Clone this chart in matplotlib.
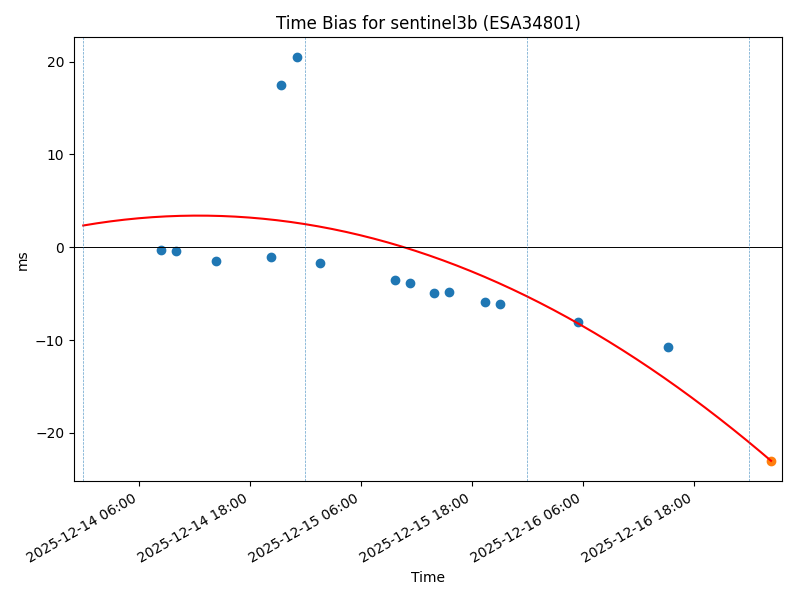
"""
Time bias plot for sentinel3b
"""

import datetime as dt

import numpy as np
import matplotlib
matplotlib.use('Agg')
import matplotlib.pyplot as plt
import matplotlib.dates as mdates

# pass times and bias values (ms)
times = ['2025-12-14 08:24', '2025-12-14 10:01', '2025-12-14 14:21',
         '2025-12-14 20:17', '2025-12-14 21:22', '2025-12-14 23:06',
         '2025-12-15 01:35', '2025-12-15 09:44', '2025-12-15 11:21',
         '2025-12-15 13:57', '2025-12-15 15:34', '2025-12-15 19:28',
         '2025-12-15 21:05', '2025-12-16 05:31', '2025-12-16 15:14']
bias = [-0.27, -0.38, -1.46, -1.02, 17.52, 20.46, -1.67, -3.54, -3.86,
        -4.94, -4.83, -5.91, -6.12, -8.06, -10.76]

# predicted point
pred_time = '2025-12-17 02:21'
pred_bias = -23.02

# quadratic fit (hours since fit start): c0 + c1*t + c2*t^2
fit_start = '2025-12-14 00:00'
fit_coeffs = [2.35, 0.1714, -0.006891]

day_lines = ['2025-12-14 00:00', '2025-12-15 00:00',
             '2025-12-16 00:00', '2025-12-17 00:00']

x_limits = ['2025-12-13 23:00', '2025-12-17 03:32']


def parse(s):
    return dt.datetime.strptime(s, '%Y-%m-%d %H:%M')


if __name__ == '__main__':
    t = [parse(s) for s in times]
    t0 = parse(fit_start)
    tp = parse(pred_time)

    fig, ax = plt.subplots(figsize=(8, 6), dpi=100)

    ax.scatter(t, bias, color='C0')
    ax.scatter([tp], [pred_bias], color='C1')

    # fit curve from fit start to predicted time
    hours = np.linspace(0, (tp - t0).total_seconds() / 3600, 200)
    curve = np.polyval(fit_coeffs[::-1], hours)
    ax.plot([t0 + dt.timedelta(hours=float(h)) for h in hours], curve, color='red')

    ax.axhline(0, color='black', linewidth=0.7)
    for d in day_lines:
        ax.axvline(parse(d), color='C0', linestyle='--', linewidth=0.5, alpha=0.7)

    ax.set_xlim(parse(x_limits[0]), parse(x_limits[1]))
    ax.xaxis.set_major_locator(mdates.HourLocator(byhour=[6, 18]))
    ax.xaxis.set_major_formatter(mdates.DateFormatter('%Y-%m-%d %H:%M'))

    ax.set_title('Time Bias for sentinel3b (ESA34801)')
    ax.set_xlabel('Time')
    ax.set_ylabel('ms')
    fig.autofmt_xdate()
    fig.subplots_adjust(left=0.0925, right=0.9775, top=0.938, bottom=0.198)
    fig.savefig('out.png')
